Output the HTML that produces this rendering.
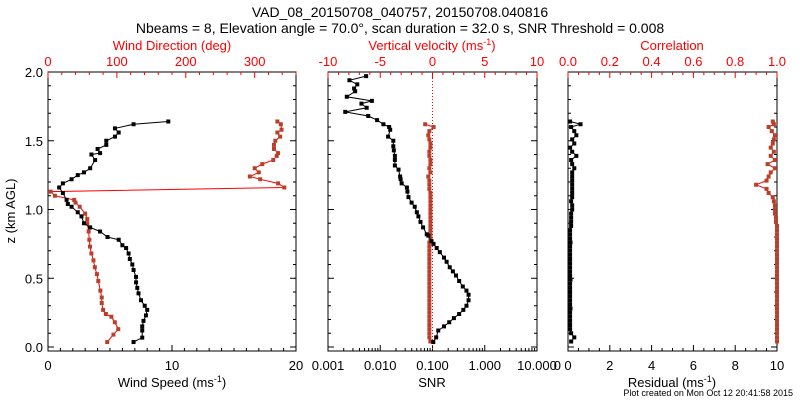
<!DOCTYPE html>
<html><head><meta charset="utf-8"><style>
body{margin:0;background:#fff;}
svg{display:block;font-family:"Liberation Sans",sans-serif;}
</style></head><body>
<svg id="chart" width="800" height="400" viewBox="0 0 800 400" xmlns="http://www.w3.org/2000/svg">
<rect width="800" height="400" fill="#fff"/>
<text x="400" y="17" font-size="14" text-anchor="middle">VAD_08_20150708_040757, 20150708.040816</text>
<text x="400" y="33" font-size="14" text-anchor="middle">Nbeams = 8, Elevation angle = 70.0°, scan duration = 32.0 s, SNR Threshold = 0.008</text>
<g id="g"></g>
</svg>
<script>
// Left panel data
const zSpd=[0.036,0.068,0.12,0.15,0.19,0.23,0.27,0.30,0.34,0.39,0.43,0.47,0.51,0.56,0.60,0.64,0.68,0.72,0.74,0.78,0.80,0.84,0.87,0.90,0.95,0.98,1.02,1.04,1.07,1.12,1.16,1.19,1.22,1.25,1.27,1.30,1.36,1.40,1.41,1.44,1.47,1.50,1.53,1.56,1.59,1.62,1.64];
const spdVals=[6.9,7.6,7.6,7.6,7.7,7.9,8.0,7.8,7.5,7.3,7.2,7.1,7.1,6.9,6.8,6.6,6.5,6.3,6.0,5.7,4.8,4.2,3.4,2.9,2.7,2.4,1.9,1.6,1.5,1.2,0.9,1.2,1.9,2.4,2.9,3.4,3.8,3.5,4.2,4.0,4.7,4.7,5.4,5.7,5.4,6.9,9.7];
const zDir=[0.036,0.09,0.13,0.18,0.22,0.24,0.27,0.32,0.36,0.41,0.48,0.53,0.58,0.63,0.68,0.73,0.78,0.84,0.90,0.93,0.97,1.02,1.05,1.07,1.10,1.13,1.16,1.19,1.22,1.24,1.27,1.30,1.33,1.36,1.39,1.41,1.44,1.47,1.50,1.53,1.56,1.58,1.62,1.64];
const dirVals=[86,95,102,97,92,84,80,78,78,76,73,71,68,66,63,61,60,59,57,57,54,46,40,38,10,4,343,334,308,293,306,300,311,327,332,334,328,328,330,337,333,339,338,333];
// Middle panel data
const zSnr=[0.036,0.07,0.12,0.15,0.18,0.21,0.24,0.27,0.30,0.34,0.38,0.41,0.44,0.48,0.52,0.55,0.58,0.62,0.65,0.69,0.72,0.75,0.77,0.81,0.82,0.87,0.91,0.95,0.98,1.02,1.05,1.09,1.13,1.16,1.19,1.22,1.24,1.29,1.32,1.36,1.39,1.43,1.46,1.50,1.53,1.58,1.60,1.62,1.65,1.68,1.71,1.74,1.77,1.79,1.82,1.86,1.88,1.91,1.94,1.97];
const snrLog=[-0.985,-0.93,-0.89,-0.78,-0.68,-0.59,-0.49,-0.41,-0.35,-0.31,-0.31,-0.35,-0.42,-0.49,-0.55,-0.61,-0.67,-0.73,-0.78,-0.86,-0.92,-0.98,-1.02,-1.08,-1.11,-1.18,-1.23,-1.27,-1.30,-1.34,-1.40,-1.46,-1.48,-1.49,-1.59,-1.61,-1.62,-1.65,-1.72,-1.72,-1.72,-1.74,-1.75,-1.75,-1.85,-1.81,-1.83,-1.94,-2.06,-2.23,-2.67,-2.26,-2.36,-2.16,-2.64,-2.48,-2.50,-2.44,-2.59,-2.27];
const zW=[0.04,0.07,0.10,0.13,0.16,0.19,0.22,0.25,0.28,0.31,0.34,0.37,0.40,0.43,0.46,0.49,0.52,0.55,0.58,0.61,0.64,0.67,0.70,0.73,0.76,0.79,0.82,0.85,0.88,0.91,0.94,0.97,1.00,1.03,1.06,1.09,1.12,1.15,1.18,1.21,1.24,1.27,1.30,1.33,1.36,1.39,1.42,1.45,1.48,1.51,1.54,1.57,1.60,1.62];
const wVals=[-0.2,-0.3,-0.3,-0.3,-0.3,-0.3,-0.3,-0.3,-0.3,-0.3,-0.3,-0.3,-0.3,-0.3,-0.3,-0.3,-0.3,-0.3,-0.3,-0.3,-0.3,-0.3,-0.3,-0.3,-0.3,-0.2,-0.2,-0.2,-0.2,-0.2,-0.2,-0.2,-0.2,-0.2,-0.2,-0.2,-0.2,-0.3,-0.3,-0.3,-0.4,-0.2,-0.3,-0.2,-0.2,-0.3,-0.3,-0.2,-0.2,-0.3,-0.4,-0.3,0.1,-0.7];
// Right panel data
const zRes=[0.04,0.07,0.10,0.13,0.16,0.19,0.22,0.25,0.28,0.31,0.34,0.37,0.40,0.43,0.46,0.49,0.52,0.55,0.58,0.61,0.64,0.67,0.70,0.73,0.76,0.79,0.82,0.85,0.88,0.91,0.94,0.97,1.00,1.03,1.06,1.09,1.12,1.15,1.18,1.21,1.24,1.27,1.30,1.33,1.36,1.39,1.42,1.45,1.48,1.51,1.54,1.57,1.60,1.62,1.64];
const resVals=[0.15,0.3,0.15,0.1,0.1,0.1,0.1,0.1,0.12,0.1,0.1,0.1,0.1,0.1,0.1,0.12,0.1,0.1,0.1,0.1,0.1,0.1,0.1,0.1,0.12,0.1,0.1,0.1,0.15,0.15,0.15,0.15,0.2,0.2,0.15,0.2,0.2,0.2,0.2,0.2,0.2,0.2,0.3,0.2,0.15,0.4,0.2,0.1,0.3,0.2,0.4,0.3,0.15,0.6,0.1];
const corVals=[1,1,1,1,1,1,1,1,1,1,1,1,1,1,1,1,1,1,1,1,1,1,1,1,1,1,1,1,1,0.995,0.995,0.99,0.99,0.99,0.985,0.98,0.96,0.95,0.90,0.95,0.96,0.97,0.99,0.955,0.99,0.97,0.985,0.97,0.98,0.985,0.99,0.975,0.96,0.985,0.98];
// Tick labels
const zTicks=[0,0.5,1.0,1.5,2.0];
const spdTicks=[0,10,20], dirTicks=[0,100,200,300];
const snrTicks=["0.001","0.010","0.100","1.000","10.000"], wTicks=[-10,-5,0,5,10];
const resTicks=[0,2,4,6,8,10], corTicks=["0.0","0.2","0.4","0.6","0.8","1.0"];

const NS="http://www.w3.org/2000/svg", G=document.getElementById('g');
const TOP=72,BOT=351;
const zY=z=>347-z*137.5;
function el(t,a,txt){const e=document.createElementNS(NS,t);for(const k in a)e.setAttribute(k,a[k]);if(txt!=null)e.textContent=txt;G.appendChild(e);return e;}
const BR="#b8402a";
function frame(x0,x1,name){
  const r=el('rect',{x:x0,y:TOP,width:x1-x0,height:BOT-TOP,fill:'none',stroke:'#000','stroke-width':1});
  
  
  for(let i=0;i<=20;i++){const y=zY(i*0.1);const L=i%5==0?6:3;
    const t1=el('line',{x1:x0,x2:x0+L,y1:y,y2:y,stroke:'#000'});
    
    
    const t2=el('line',{x1:x1,x2:x1-L,y1:y,y2:y,stroke:'#000'});
    
    }
}
function hticks(x0,x1,n,majEvery,y,dir,col){for(let i=0;i<=n;i++){const x=x0+(x1-x0)*i/n;const L=i%majEvery==0?6:3;
  const t=el('line',{x1:x,x2:x,y1:y,y2:y+dir*L,stroke:col});
  
  }}
function label(x,y,s,col,anchor,size,name){const t=el('text',{x:x,y:y,fill:col,'font-size':size||13,'text-anchor':anchor||'middle'},s);
  
  return t;}
function series(xs,ys,lineCol,markCol,name){
  let d='';xs.forEach((x,i)=>{d+=(i?'L':'M')+x.toFixed(1)+' '+ys[i].toFixed(1);});
  const p=el('path',{d:d,fill:'none',stroke:lineCol,'stroke-width':1});
  
  
  xs.forEach((x,i)=>{const m=el('rect',{x:x-2,y:ys[i]-2,width:4,height:4,fill:markCol});
    
    });
}
// LEFT
const L0=48,L1=296;
frame(L0,L1,'left-panel');
const sX=v=>L0+v*(L1-L0)/20, dX=v=>L0+v*(L1-L0)/360;
hticks(L0,L1,20,10,BOT,-1,'#000');
for(let i=0;i<=18;i++){const x=dX(i*20);const L=i%5==0?6:3;const t=el('line',{x1:x,x2:x,y1:TOP,y2:TOP+L,stroke:'red'});
  
  }
zTicks.forEach(z=>label(43,zY(z)+5,z.toFixed(1),'#000','end',13,'z-tick-label'));
spdTicks.forEach(v=>label(sX(v),370,String(v),'#000','middle',13,'speed-tick-label'));
dirTicks.forEach(v=>label(dX(v),66,String(v),'red','middle',13,'dir-tick-label'));
label(172,50,'Wind Direction (deg)','red','middle',13,'dir-axis-title');
const st=label(172,387,'Wind Speed (ms','#000','middle',13,'speed-axis-title');
{const ts=document.createElementNS(NS,'tspan');ts.setAttribute('font-size','9');ts.setAttribute('dy','-5');ts.textContent='-1';st.appendChild(ts);
 const t2=document.createElementNS(NS,'tspan');t2.setAttribute('dy','5');t2.textContent=')';st.appendChild(t2);}
const yt=label(0,0,'z (km AGL)','#000','middle',13,'y-axis-title');yt.setAttribute('transform','translate(15,211) rotate(-90)');
series(dirVals.map(dX),zDir.map(zY),'red',BR,'wind-direction');
series(spdVals.map(sX),zSpd.map(zY),'#000','#000','wind-speed');
// MIDDLE
const M0=328,M1=537;
frame(M0,M1,'middle-panel');
const lX=v=>M0+(v+3)*(M1-M0)/4, wX=v=>M0+(v+10)*(M1-M0)/20;
for(let dcd=-3;dcd<=1;dcd++){for(let k=1;k<=9;k++){if(dcd==1&&k>1)break;const x=lX(dcd+Math.log10(k));const L=k==1?6:3;
  const t=el('line',{x1:x,x2:x,y1:BOT,y2:BOT-L,stroke:'#000'});
  
  }}
hticks(M0,M1,20,5,TOP,1,'red');
snrTicks.forEach((s,i)=>label(lX(i-3),370,s,'#000','middle',13,'snr-tick-label'));
wTicks.forEach(v=>label(wX(v),66,String(v),'red','middle',13,'w-tick-label'));
label(432,387,'SNR','#000','middle',13,'snr-axis-title');
const vt=label(432,50,'Vertical velocity (ms','red','middle',13,'w-axis-title');
{const ts=document.createElementNS(NS,'tspan');ts.setAttribute('font-size','9');ts.setAttribute('dy','-5');ts.textContent='-1';vt.appendChild(ts);
 const t2=document.createElementNS(NS,'tspan');t2.setAttribute('dy','5');t2.textContent=')';vt.appendChild(t2);}
{const z0=el('line',{x1:wX(0),x2:wX(0),y1:TOP,y2:BOT,stroke:'red','stroke-dasharray':'1,2'});
 
 }
series(wVals.map(wX),zW.map(zY),'red',BR,'vertical-velocity');
series(snrLog.map(lX),zSnr.map(zY),'#000','#000','snr');
// RIGHT
const R0=568,R1=777;
frame(R0,R1,'right-panel');
const rX=v=>R0+v*(R1-R0)/10, cX=v=>R0+v*(R1-R0);
hticks(R0,R1,20,4,BOT,-1,'#000');
hticks(R0,R1,20,4,TOP,1,'red');
resTicks.forEach(v=>label(rX(v),370,String(v),'#000','middle',13,'residual-tick-label'));
label(561,370,'0','#000','end',13,'residual-extra-label');
corTicks.forEach((s,i)=>label(cX(i*0.2),66,s,'red','middle',13,'corr-tick-label'));
label(672,50,'Correlation','red','middle',13,'corr-axis-title');
const rt=label(672,387,'Residual (ms','#000','middle',13,'residual-axis-title');
{const ts=document.createElementNS(NS,'tspan');ts.setAttribute('font-size','9');ts.setAttribute('dy','-5');ts.textContent='-1';rt.appendChild(ts);
 const t2=document.createElementNS(NS,'tspan');t2.setAttribute('dy','5');t2.textContent=')';rt.appendChild(t2);}
series(corVals.map(cX),zRes.map(zY),'red',BR,'correlation');
series(resVals.map(rX),zRes.map(zY),'#000','#000','residual');
label(793,396,'Plot created on Mon Oct 12 20:41:58 2015','#000','end',9,'plot-created-note');
</script>
</body></html>
